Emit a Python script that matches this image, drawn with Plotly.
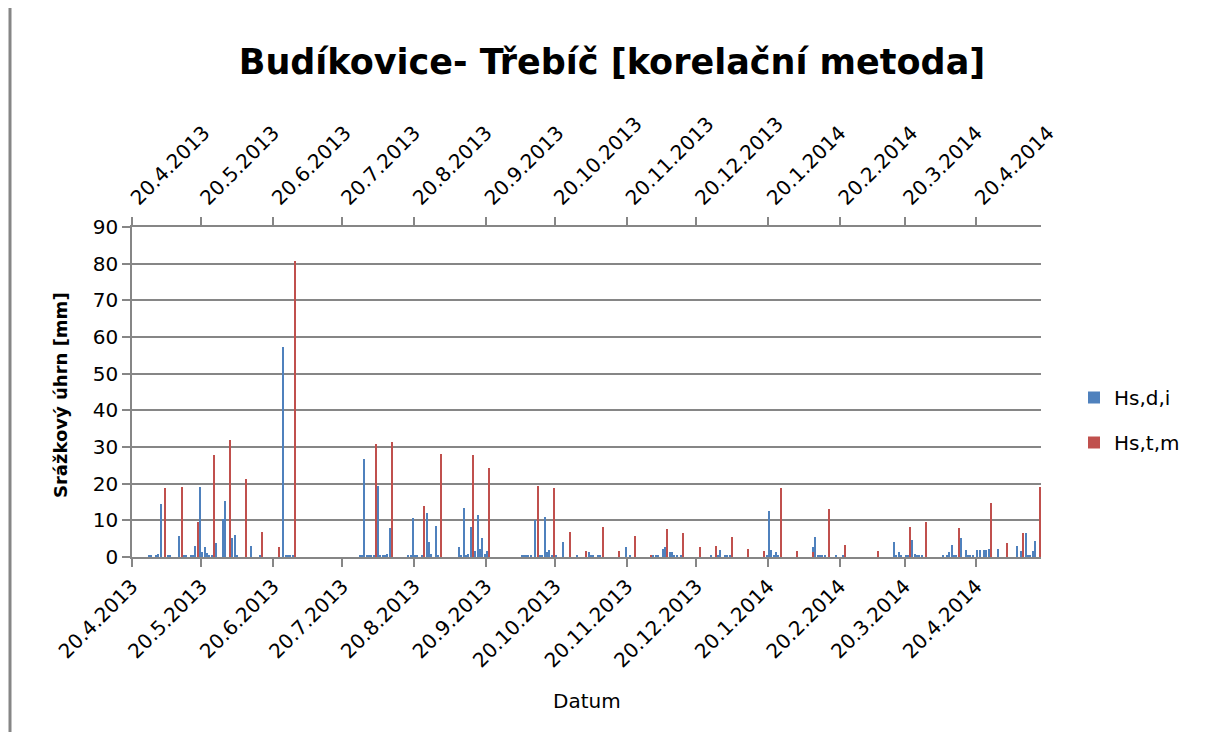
import plotly.graph_objects as go

# ---------------- data ----------------
blue_dates = [
    "2013-04-27", "2013-04-28", "2013-04-30", "2013-05-01", "2013-05-02", "2013-05-05", "2013-05-06",
    "2013-05-10", "2013-05-12", "2013-05-13", "2013-05-15", "2013-05-16", "2013-05-17", "2013-05-19",
    "2013-05-20", "2013-05-21", "2013-05-22", "2013-05-23", "2013-05-24", "2013-05-26", "2013-05-29",
    "2013-05-30", "2013-06-02", "2013-06-03", "2013-06-04", "2013-06-10", "2013-06-14", "2013-06-24",
    "2013-06-25", "2013-06-26", "2013-06-27", "2013-06-28",
    "2013-07-27", "2013-07-28", "2013-07-29", "2013-07-30", "2013-07-31", "2013-08-01", "2013-08-02",
    "2013-08-04", "2013-08-05", "2013-08-06", "2013-08-07", "2013-08-08", "2013-08-09", "2013-08-17",
    "2013-08-18", "2013-08-19", "2013-08-20", "2013-08-21", "2013-08-23", "2013-08-25", "2013-08-26",
    "2013-08-27", "2013-08-29", "2013-08-30",
    "2013-09-08", "2013-09-09", "2013-09-10", "2013-09-11", "2013-09-12", "2013-09-13", "2013-09-15",
    "2013-09-16", "2013-09-17", "2013-09-18", "2013-09-19", "2013-09-20",
    "2013-10-05", "2013-10-06", "2013-10-07", "2013-10-08", "2013-10-09", "2013-10-11", "2013-10-13",
    "2013-10-14", "2013-10-15", "2013-10-16", "2013-10-17", "2013-10-18", "2013-10-20", "2013-10-23",
    "2013-10-29",
    "2013-11-03", "2013-11-04", "2013-11-05", "2013-11-07", "2013-11-08", "2013-11-19", "2013-11-21",
    "2013-12-01", "2013-12-02", "2013-12-03", "2013-12-05", "2013-12-06", "2013-12-08", "2013-12-09",
    "2013-12-10", "2013-12-11", "2013-12-13", "2013-12-26", "2013-12-29", "2013-12-30",
    "2014-01-01", "2014-01-02", "2014-01-03", "2014-01-19", "2014-01-20", "2014-01-21", "2014-01-22",
    "2014-01-23", "2014-01-24",
    "2014-02-08", "2014-02-09", "2014-02-10", "2014-02-11", "2014-02-12", "2014-02-13", "2014-02-18",
    "2014-02-21",
    "2014-03-15", "2014-03-16", "2014-03-17", "2014-03-18", "2014-03-20", "2014-03-21", "2014-03-23",
    "2014-03-24", "2014-03-25", "2014-03-26", "2014-03-27",
    "2014-04-05", "2014-04-07", "2014-04-08", "2014-04-09", "2014-04-10", "2014-04-11", "2014-04-13",
    "2014-04-15", "2014-04-16", "2014-04-17", "2014-04-18", "2014-04-20", "2014-04-21", "2014-04-23",
    "2014-04-24", "2014-04-25", "2014-04-29",
    "2014-05-07", "2014-05-09", "2014-05-11", "2014-05-12", "2014-05-13", "2014-05-14", "2014-05-15",
]
blue_values = [
    0.3, 0.3, 0.6, 0.9, 14.5, 0.6, 0.4,
    5.7, 0.4, 0.4, 0.4, 0.4, 2.9, 19.2,
    1.5, 2.7, 1.2, 0.6, 0.6, 3.8, 10.4,
    15.3, 5.1, 6.0, 0.5, 2.9, 0.5, 57.3,
    0.5, 0.5, 0.5, 0.5,
    0.4, 0.4, 26.8, 0.4, 0.4, 0.4, 0.5,
    19.4, 0.4, 0.4, 0.4, 0.7, 7.9, 0.4,
    0.4, 10.6, 0.4, 0.4, 0.4, 12.0, 4.0,
    0.7, 8.4, 0.4,
    2.6, 0.4, 13.3, 0.4, 0.8, 8.1, 1.6,
    11.4, 2.1, 5.1, 0.7, 1.6,
    0.4, 0.4, 0.4, 0.4, 0.4, 10.0, 0.4,
    0.4, 10.9, 1.3, 1.8, 0.5, 0.4, 4.0,
    0.4,
    1.3, 0.3, 0.6, 0.3, 0.5, 2.7, 0.6,
    0.4, 0.4, 0.4, 2.1, 2.7, 1.3, 1.3,
    0.4, 0.4, 0.5, 0.4, 0.4, 1.8,
    0.4, 0.4, 0.4, 0.4, 12.6, 1.8, 0.4,
    1.3, 0.4,
    2.7, 5.4, 0.3, 0.3, 0.3, 0.3, 0.3,
    0.5,
    4.0, 0.4, 1.3, 0.4, 0.4, 0.4, 4.6,
    0.7, 0.3, 0.4, 0.4,
    0.4, 0.4, 1.3, 3.2, 0.6, 0.3, 5.1,
    1.8, 0.4, 0.4, 0.4, 1.8, 1.8, 1.8,
    1.8, 2.1, 2.1,
    2.9, 1.6, 6.5, 0.5, 0.5, 1.6, 4.3,
]

red_dates = [
    "2013-05-04", "2013-05-11", "2013-05-18", "2013-05-25", "2013-06-01", "2013-06-08", "2013-06-15",
    "2013-06-22", "2013-06-29", "2013-08-03", "2013-08-10", "2013-08-24", "2013-08-31", "2013-09-14",
    "2013-09-21", "2013-10-12", "2013-10-19", "2013-10-26", "2013-11-02", "2013-11-09", "2013-11-16",
    "2013-11-23", "2013-11-30", "2013-12-07", "2013-12-14", "2013-12-21", "2013-12-28", "2014-01-04",
    "2014-01-11", "2014-01-18", "2014-01-25", "2014-02-01", "2014-02-08", "2014-02-15", "2014-02-22",
    "2014-03-08", "2014-03-22", "2014-03-29", "2014-04-12", "2014-04-26", "2014-05-03", "2014-05-10",
    "2014-05-17",
]
red_values = [
    18.9, 19.2, 9.5, 27.7, 31.8, 21.4, 6.8,
    2.7, 80.8, 30.9, 31.4, 13.9, 28.1, 27.9,
    24.2, 19.5, 18.8, 6.8, 1.6, 8.2, 1.6,
    5.7, 0.4, 7.6, 6.5, 2.7, 2.9, 5.4,
    2.1, 1.6, 18.9, 1.6, 1.3, 13.1, 3.2,
    1.6, 8.2, 9.5, 7.9, 14.8, 3.8, 6.5,
    19.2,
]

tick_dates = [
    "2013-04-20", "2013-05-20", "2013-06-20", "2013-07-20", "2013-08-20", "2013-09-20", "2013-10-20",
    "2013-11-20", "2013-12-20", "2014-01-20", "2014-02-20", "2014-03-20", "2014-04-20",
]
tick_labels = [
    "20.4.2013", "20.5.2013", "20.6.2013", "20.7.2013", "20.8.2013", "20.9.2013", "20.10.2013",
    "20.11.2013", "20.12.2013", "20.1.2014", "20.2.2014", "20.3.2014", "20.4.2014",
]
x_range = ["2013-04-20", "2014-05-18"]

series_names = ["Hs,d,i", "Hs,t,m"]
title_text = "Budíkovice- Třebíč [korelační metoda]"
y_title = "Srážkový úhrn [mm]"
x_title = "Datum"

# ---------------- styling ----------------
BLUE = "#4F81BD"
RED = "#C0504D"
GRAY = "#868686"
FONT = "DejaVu Sans"
DAY_MS = 86400000
BAR_W = 0.6 * DAY_MS

OFF = 8                       # page body margin of the browser
W, H = 1190, 724              # figure size
# target plot area in window pixels
PX0, PX1, PY0, PY1 = 132, 1041, 227, 557
L = PX0 - OFF
R = OFF + W - PX1
T = PY0 - OFF
B = OFF + H - PY1
plot_w = PX1 - PX0
plot_h = PY1 - PY0


def px_x(px):
    return (px - PX0) / plot_w


def px_y(py):
    return (PY1 - py) / plot_h


fig = go.Figure()
fig.add_trace(go.Bar(
    x=blue_dates, y=blue_values, name=series_names[0],
    marker=dict(color=BLUE, line=dict(width=0)),
    width=BAR_W, xperiod=DAY_MS, xperiodalignment="middle",
    legendgroup="a", xaxis="x", yaxis="y",
))
fig.add_trace(go.Bar(
    x=red_dates, y=red_values, name=series_names[1],
    marker=dict(color=RED, line=dict(width=0)),
    width=BAR_W, xperiod=DAY_MS, xperiodalignment="middle",
    legendgroup="b", xaxis="x2", yaxis="y",
))

axis_common = dict(
    type="date", range=x_range,
    tickmode="array", tickvals=tick_dates, ticktext=tick_labels,
    tickangle=-45, ticks="outside", ticklen=8, tickwidth=1.5, tickcolor=GRAY,
    showline=True, linecolor=GRAY, linewidth=1.5,
    showgrid=False, zeroline=False,
    tickfont=dict(family=FONT, size=20, color="#000000"),
    fixedrange=True,
)

fig.update_layout(
    width=W, height=H,
    margin=dict(l=L, r=R, t=T, b=B, pad=0),
    paper_bgcolor="white", plot_bgcolor="white",
    barmode="overlay", bargap=0,
    font=dict(family=FONT, color="#000000"),
    title=dict(
        text=title_text, x=(612 - OFF) / W, xanchor="center",
        y=1 - (62 - OFF) / H, yanchor="middle",
        xref="container", yref="container",
        font=dict(family=FONT, size=35, color="#000000", weight="bold"),
    ),
    xaxis=dict(**axis_common, side="bottom"),
    xaxis2=dict(**axis_common, side="top", overlaying="x", anchor="y"),
    yaxis=dict(
        range=[0, 90], dtick=10, tick0=0,
        ticks="outside", ticklen=8, tickwidth=1.5, tickcolor=GRAY,
        showline=True, linecolor=GRAY, linewidth=1.5,
        showgrid=True, gridcolor=GRAY, gridwidth=1.5,
        zeroline=False,
        tickfont=dict(family=FONT, size=20, color="#000000"),
        fixedrange=True,
    ),
    legend=dict(
        x=px_x(1074), xanchor="left",
        y=px_y(420), yanchor="middle",
        font=dict(family=FONT, size=20, color="#000000"),
        tracegroupgap=16, traceorder="grouped",
        bgcolor="rgba(0,0,0,0)",
    ),
    showlegend=True,
)

fig.add_annotation(
    text=y_title, xref="paper", yref="paper",
    x=px_x(60), y=px_y(395),
    textangle=-90, showarrow=False, xanchor="center", yanchor="middle",
    font=dict(family=FONT, size=18, color="#000000", weight="bold"),
)
fig.add_annotation(
    text=x_title, xref="paper", yref="paper",
    x=px_x(587), y=px_y(701),
    showarrow=False, xanchor="center", yanchor="middle",
    font=dict(family=FONT, size=20, color="#000000"),
)
# chart-area border (left edge visible in the reference)
fig.add_shape(
    type="line", xref="paper", yref="paper",
    x0=px_x(10), x1=px_x(10),
    y0=px_y(0), y1=px_y(740),
    line=dict(color=GRAY, width=3),
)

fig.write_html("out.html")
